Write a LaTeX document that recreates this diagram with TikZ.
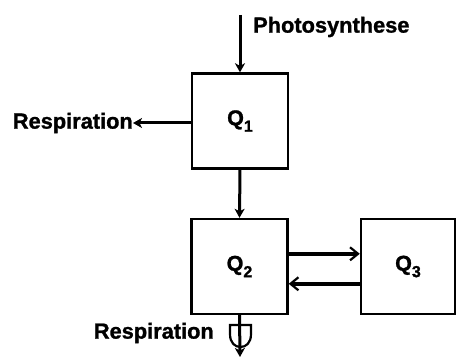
\documentclass[tikz,border=0pt]{standalone}
\usepackage{fontspec}
\setmainfont{Liberation Sans}[BoldFeatures={FakeBold=1.2}]
\usetikzlibrary{arrows.meta}
\newcommand{\qsub}[1]{Q\raisebox{-0.3em}{\fontsize{16}{16}\selectfont #1}}
\begin{document}
\begin{tikzpicture}[x=1pt,y=-1pt,
  box/.style={draw,line width=2.4pt,minimum width=96pt,minimum height=95pt,inner sep=0pt,font=\fontsize{21.5}{24}\selectfont\bfseries},
  lbl/.style={inner sep=0pt,font=\fontsize{21.8}{24}\selectfont\bfseries},
  flow/.style={line width=3pt,-{Stealth[length=9pt,width=10pt,inset=2.5pt]}},
  bigflow/.style={line width=4.5pt,-{Straight Barb[length=8pt,width=13pt,line width=2.2pt]}}]
\useasboundingbox (0,0) rectangle (456,358);
\node[box] (q1) at (240,121) {\qsub{1}};
\node[box] (q2) at (239.5,266.5) {\qsub{2}};
\node[box,minimum width=94pt] (q3) at (408,266.5) {\qsub{3}};
\coordinate (ps) at (240,15);
\coordinate (r1) at (133,123);
\coordinate (r2) at (240,357);
\node[lbl,anchor=west] (tps) at (253,27) {Photosynthese};
\node[lbl,anchor=east] (tr1) at (r1) {Respiration};
\node[lbl,anchor=east] (tr2) at (214,333) {Respiration};
\draw[flow] (ps) -- (q1.north);
\draw[flow] (q1.west |- r1) -- (r1);
\draw[flow] (q1.south) -- (q2.north);
\draw[bigflow] ([yshift=12.7pt]q2.east) -- ([yshift=12.7pt]q3.west);
\draw[bigflow] ([yshift=-17.3pt]q3.west) -- ([yshift=-17.3pt]q2.east);
\draw[flow] (q2.south) -- (r2);
\draw[line width=2.2pt] (230,325) -- (251,325) -- (251,334) .. controls (251,343) and (246,347) .. (240.5,347) .. controls (235,347) and (230,343) .. (230,334) -- cycle;
\end{tikzpicture}
\end{document}
